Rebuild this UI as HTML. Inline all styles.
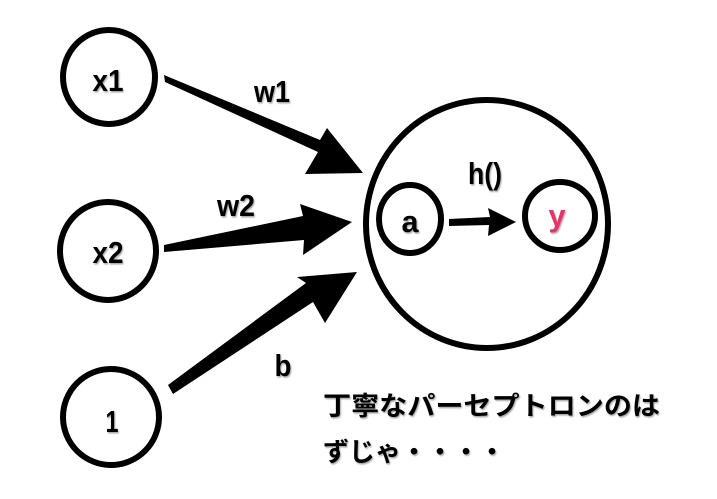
<!DOCTYPE html>
<html><head><meta charset="utf-8"><style>
html,body{margin:0;padding:0;background:#fff;}
svg{display:block;}
</style></head><body>
<svg width="717" height="499" viewBox="0 0 717 499" xmlns="http://www.w3.org/2000/svg">
<defs><filter id="s"><feDropShadow dx="1" dy="1.5" stdDeviation="0.8" flood-color="#000" flood-opacity="0.35"/></filter></defs>
<g fill="none" stroke="#000" stroke-width="6">
<ellipse cx="109" cy="77" rx="46" ry="47"/>
<ellipse cx="108" cy="251" rx="48" ry="49"/>
<ellipse cx="111" cy="417" rx="48" ry="48"/>
<ellipse cx="487" cy="224" rx="121" ry="124"/>
<ellipse cx="410" cy="219" rx="31" ry="34"/>
<ellipse cx="560" cy="216" rx="35" ry="34"/>
</g>
<g fill="#000">
<path d="M164,75 L165,82 L318,152 L305,174 L363,173 L327,128 L320,140 Z"/>
<path d="M164,245 L164,252 L304,240 L303,255 L352,222 L300,204 L303,216 Z"/>
<path d="M168,385 L173,394 L313,302 L325,323 L357,272 L297,277 L306,283 Z"/>
<path d="M449,219 L449,226 L489,225 L488,236 L516,222 L488,208 L490,217 Z"/>
</g>
<g filter="url(#s)" text-anchor="middle" font-family="Liberation Sans, sans-serif" font-weight="bold" font-size="31" style="font-family:'Liberation Sans',sans-serif;font-weight:bold;font-size:31px">
<text x="272" y="102" textLength="36" lengthAdjust="spacingAndGlyphs">w1</text>
<text x="236" y="216" textLength="38" lengthAdjust="spacingAndGlyphs">w2</text>
<text x="485" y="184" textLength="34" lengthAdjust="spacingAndGlyphs">h()</text>
<text x="410" y="232" textLength="17" lengthAdjust="spacingAndGlyphs">a</text>
<text x="557" y="226" fill="#e8336b" textLength="17" lengthAdjust="spacingAndGlyphs">y</text>
<text x="283" y="376" textLength="17" lengthAdjust="spacingAndGlyphs">b</text>
<text x="108" y="91" textLength="31" lengthAdjust="spacingAndGlyphs">x1</text>
<text x="108" y="263" textLength="31" lengthAdjust="spacingAndGlyphs">x2</text>
<text x="112" y="432" textLength="13" lengthAdjust="spacingAndGlyphs">1</text>
</g>
<g filter="url(#s)" font-weight="bold" font-size="26" style="font-family:'Liberation Sans','Noto Sans CJK JP',sans-serif;font-weight:bold;font-size:26px">
<text x="323" y="415" textLength="337" lengthAdjust="spacingAndGlyphs">丁寧なパーセプトロンのは</text>
<text x="323" y="461">ずじゃ・・・・</text>
</g>
</svg>
</body></html>
